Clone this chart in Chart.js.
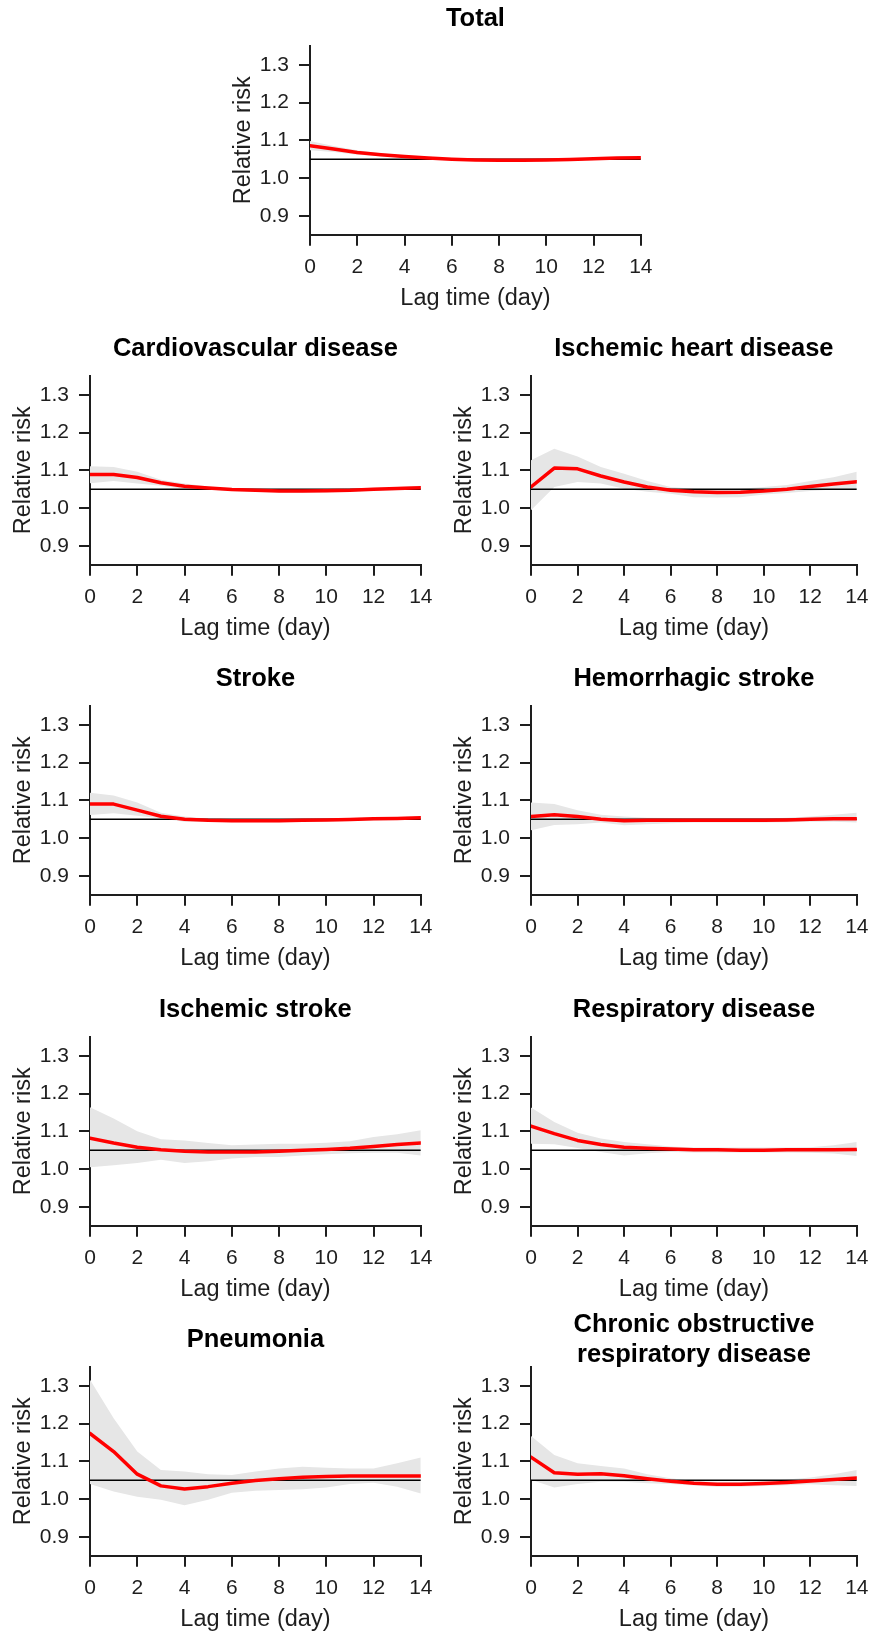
<!DOCTYPE html>
<html>
<head>
<meta charset="utf-8">
<script src="https://cdn.jsdelivr.net/npm/chart.js@4.4.1/dist/chart.umd.min.js"></script>
<style>
  html, body { margin: 0; padding: 0; background: #fff; overflow: hidden; }
  body { width: 877px; height: 1637px; position: relative; }
  canvas { position: absolute; }
</style>
</head>
<body>
<script>
// lag days and axis ticks
const lags = [0, 1, 2, 3, 4, 5, 6, 7, 8, 9, 10, 11, 12, 13, 14];
const xTicks = [0, 2, 4, 6, 8, 10, 12, 14];
const yTicks = [0.9, 1.0, 1.1, 1.2, 1.3];
const refRisk = 1.05;

// relative risk by lag (fit, lower and upper bound of the band)
const totalFit  = [1.086, 1.077, 1.068, 1.062, 1.057, 1.053, 1.050, 1.048, 1.047, 1.047, 1.048, 1.049, 1.051, 1.053, 1.054];
const totalLow  = [1.074, 1.069, 1.062, 1.058, 1.054, 1.050, 1.047, 1.045, 1.044, 1.044, 1.045, 1.046, 1.048, 1.050, 1.050];
const totalHigh = [1.098, 1.085, 1.074, 1.066, 1.060, 1.056, 1.053, 1.051, 1.050, 1.050, 1.051, 1.052, 1.054, 1.056, 1.058];

const cvdFit  = [1.089, 1.089, 1.081, 1.067, 1.058, 1.053, 1.049, 1.047, 1.045, 1.045, 1.046, 1.047, 1.050, 1.052, 1.054];
const cvdLow  = [1.066, 1.072, 1.065, 1.059, 1.051, 1.049, 1.045, 1.043, 1.041, 1.041, 1.042, 1.043, 1.046, 1.048, 1.049];
const cvdHigh = [1.111, 1.109, 1.096, 1.075, 1.065, 1.057, 1.053, 1.051, 1.049, 1.049, 1.050, 1.051, 1.054, 1.056, 1.059];

const ihdFit  = [1.056, 1.106, 1.104, 1.085, 1.069, 1.056, 1.047, 1.043, 1.041, 1.042, 1.045, 1.050, 1.057, 1.064, 1.070];
const ihdLow  = [0.994, 1.056, 1.069, 1.065, 1.051, 1.043, 1.038, 1.029, 1.028, 1.029, 1.036, 1.040, 1.045, 1.049, 1.049];
const ihdHigh = [1.127, 1.157, 1.137, 1.109, 1.091, 1.072, 1.056, 1.051, 1.050, 1.051, 1.056, 1.061, 1.072, 1.082, 1.096];

const strokeFit  = [1.090, 1.090, 1.074, 1.058, 1.050, 1.047, 1.046, 1.046, 1.046, 1.047, 1.048, 1.049, 1.051, 1.052, 1.054];
const strokeLow  = [1.061, 1.066, 1.059, 1.052, 1.043, 1.043, 1.042, 1.042, 1.042, 1.043, 1.044, 1.045, 1.047, 1.048, 1.050];
const strokeHigh = [1.120, 1.113, 1.094, 1.067, 1.057, 1.051, 1.050, 1.050, 1.050, 1.051, 1.052, 1.053, 1.055, 1.056, 1.058];

const hemFit  = [1.057, 1.062, 1.057, 1.050, 1.046, 1.047, 1.047, 1.047, 1.047, 1.047, 1.047, 1.048, 1.050, 1.051, 1.051];
const hemLow  = [1.021, 1.035, 1.037, 1.041, 1.034, 1.037, 1.039, 1.041, 1.041, 1.041, 1.041, 1.042, 1.043, 1.043, 1.041];
const hemHigh = [1.094, 1.090, 1.074, 1.062, 1.057, 1.054, 1.053, 1.052, 1.052, 1.052, 1.052, 1.054, 1.057, 1.062, 1.067];

const ischFit  = [1.082, 1.069, 1.058, 1.051, 1.047, 1.045, 1.045, 1.045, 1.047, 1.050, 1.052, 1.055, 1.060, 1.065, 1.069];
const ischLow  = [1.005, 1.010, 1.016, 1.025, 1.016, 1.021, 1.028, 1.032, 1.032, 1.036, 1.039, 1.042, 1.043, 1.043, 1.036];
const ischHigh = [1.164, 1.134, 1.100, 1.079, 1.076, 1.069, 1.063, 1.065, 1.067, 1.067, 1.070, 1.074, 1.085, 1.092, 1.103];

const respFit  = [1.114, 1.094, 1.076, 1.065, 1.058, 1.055, 1.053, 1.051, 1.051, 1.050, 1.050, 1.051, 1.051, 1.051, 1.052];
const respLow  = [1.067, 1.066, 1.056, 1.045, 1.036, 1.042, 1.045, 1.044, 1.044, 1.044, 1.044, 1.044, 1.043, 1.041, 1.035];
const respHigh = [1.163, 1.125, 1.096, 1.081, 1.072, 1.066, 1.060, 1.057, 1.057, 1.057, 1.057, 1.057, 1.058, 1.063, 1.072];

const pneuFit  = [1.174, 1.126, 1.066, 1.035, 1.027, 1.033, 1.042, 1.049, 1.054, 1.058, 1.060, 1.061, 1.061, 1.061, 1.061];
const pneuLow  = [1.040, 1.020, 1.006, 0.998, 0.984, 0.998, 1.017, 1.022, 1.024, 1.026, 1.031, 1.040, 1.043, 1.033, 1.015];
const pneuHigh = [1.316, 1.214, 1.126, 1.077, 1.073, 1.066, 1.064, 1.073, 1.081, 1.086, 1.083, 1.081, 1.081, 1.095, 1.110];

const copdFit  = [1.111, 1.070, 1.066, 1.067, 1.062, 1.054, 1.047, 1.042, 1.039, 1.039, 1.041, 1.044, 1.048, 1.052, 1.056];
const copdLow  = [1.051, 1.031, 1.040, 1.046, 1.046, 1.042, 1.040, 1.036, 1.033, 1.033, 1.035, 1.037, 1.039, 1.037, 1.035];
const copdHigh = [1.167, 1.117, 1.095, 1.088, 1.081, 1.066, 1.055, 1.048, 1.046, 1.046, 1.048, 1.052, 1.057, 1.066, 1.077];

const FONT = "'Liberation Sans', Arial, Helvetica, sans-serif";
const INK = '#1e1e1e';

// axisX = page x of the y axis, plotTop = page y of the top of the plot
const panels = [
  { title: 'Total', fit: totalFit, low: totalLow, high: totalHigh, axisX: 310, plotTop: 45.5 },
  { title: 'Cardiovascular disease', fit: cvdFit, low: cvdLow, high: cvdHigh, axisX: 90, plotTop: 375.8 },
  { title: 'Ischemic heart disease', fit: ihdFit, low: ihdLow, high: ihdHigh, axisX: 531, plotTop: 375.8 },
  { title: 'Stroke', fit: strokeFit, low: strokeLow, high: strokeHigh, axisX: 90, plotTop: 705.8 },
  { title: 'Hemorrhagic stroke', fit: hemFit, low: hemLow, high: hemHigh, axisX: 531, plotTop: 705.8 },
  { title: 'Ischemic stroke', fit: ischFit, low: ischLow, high: ischHigh, axisX: 90, plotTop: 1036.8 },
  { title: 'Respiratory disease', fit: respFit, low: respLow, high: respHigh, axisX: 531, plotTop: 1036.8 },
  { title: 'Pneumonia', fit: pneuFit, low: pneuLow, high: pneuHigh, axisX: 90, plotTop: 1367.1 },
  { title: ['Chronic obstructive', 'respiratory disease'], fit: copdFit, low: copdLow, high: copdHigh, axisX: 531, plotTop: 1367.1 }
];

const yAxisWidth = 90;
const plotWidth = 331.5;
const plotHeight = 188.7;
const xAxisHeight = 81.3;

function points(values) {
  return lags.map((x, i) => ({ x: x, y: values[i] }));
}

panels.forEach(function(p) {
  const twoLines = Array.isArray(p.title);
  const headroom = twoLines ? 66 : 46;
  const left = p.axisX - yAxisWidth;
  const W = Math.min(441, 877 - left);
  const H = headroom + plotHeight + xAxisHeight;

  const canvas = document.createElement('canvas');
  canvas.width = W;
  canvas.height = Math.ceil(H);
  canvas.style.left = left + 'px';
  canvas.style.top = (p.plotTop - headroom) + 'px';
  canvas.style.width = W + 'px';
  canvas.style.height = Math.ceil(H) + 'px';
  document.body.appendChild(canvas);

  const axisStyle = {
    grid: { display: true, drawOnChartArea: false, drawTicks: true, tickLength: 11, color: INK, lineWidth: 2 },
    border: { display: true, color: INK, width: 2 }
  };

  new Chart(canvas, {
    type: 'line',
    data: {
      datasets: [
        { data: points(p.low), borderColor: 'rgba(0,0,0,0)', borderWidth: 0, pointRadius: 0, fill: false, order: 4 },
        { data: points(p.high), borderColor: 'rgba(0,0,0,0)', borderWidth: 0, pointRadius: 0,
          fill: '-1', backgroundColor: '#e6e6e6', order: 3 },
        { data: [{ x: lags[0], y: refRisk }, { x: lags[lags.length - 1], y: refRisk }],
          borderColor: '#000', borderWidth: 1.4, pointRadius: 0, fill: false, order: 2 },
        { data: points(p.fit), borderColor: '#ff0000', borderWidth: 3.5, pointRadius: 0,
          fill: false, tension: 0, order: 1, borderJoinStyle: 'round', borderCapStyle: 'round' }
      ]
    },
    options: {
      responsive: false,
      animation: false,
      devicePixelRatio: 1,
      layout: { padding: { left: 0, top: 0, bottom: 0, right: W - yAxisWidth - plotWidth } },
      scales: {
        x: Object.assign({
          type: 'linear',
          min: 0,
          max: 14,
          afterBuildTicks: function(scale) { scale.ticks = xTicks.map(v => ({ value: v })); },
          afterFit: function(scale) { scale.height = xAxisHeight; },
          ticks: { color: INK, padding: 8.5, maxRotation: 0, font: { family: FONT, size: 21 } },
          title: { display: true, text: 'Lag time (day)', color: INK, padding: { top: 0, bottom: 2.9 },
            font: { family: FONT, size: 23.5, lineHeight: 1.2 } }
        }, axisStyle),
        y: Object.assign({
          min: 0.85,
          max: 1.35,
          afterBuildTicks: function(scale) { scale.ticks = yTicks.map(v => ({ value: v })); },
          afterFit: function(scale) { scale.width = yAxisWidth; },
          ticks: { color: INK, padding: 10, font: { family: FONT, size: 21 },
            callback: function(v) { return v.toFixed(1); } },
          title: { display: true, text: 'Relative risk', color: INK, padding: { top: 9, bottom: 0 },
            font: { family: FONT, size: 23.5, lineHeight: 1.2 } }
        }, axisStyle)
      },
      plugins: {
        legend: { display: false },
        tooltip: { enabled: false },
        title: {
          display: true,
          fullSize: false,
          text: p.title,
          color: '#000',
          font: { family: FONT, size: 25.5, weight: 'bold', lineHeight: 1.18 },
          padding: twoLines ? { top: 8.95, bottom: -3.13 } : { top: 3.95, bottom: 11.96 }
        }
      }
    }
  });
});
</script>
</body>
</html>
